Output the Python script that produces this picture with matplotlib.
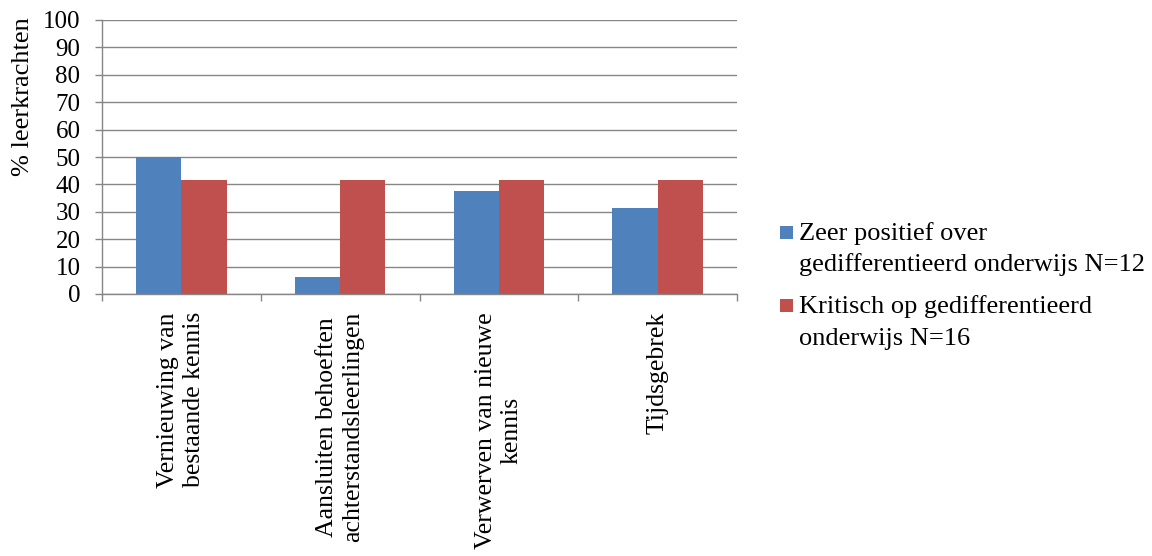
import matplotlib
matplotlib.use("Agg")
import matplotlib.pyplot as plt
import numpy as np
from matplotlib.patches import Rectangle

plt.rcParams['font.family'] = ['Liberation Serif', 'DejaVu Serif']

categories = ["Vernieuwing van\nbestaande kennis",
              "Aansluiten behoeften\nachterstandsleerlingen",
              "Verwerven van nieuwe\nkennis",
              "Tijdsgebrek"]
series_names = ["Zeer positief over\ngedifferentieerd onderwijs N=12",
                "Kritisch op gedifferentieerd\nonderwijs N=16"]
positief = [50.0, 6.25, 37.5, 31.25]
kritisch = [41.67, 41.67, 41.67, 41.67]
yticks = list(range(0, 101, 10))

colors = ['#4F81BD', '#C0504D']
grid_c = '#868686'

W, H = 1152, 556
fig = plt.figure(figsize=(W / 100, H / 100), dpi=100)
ax = fig.add_axes([102 / W, 1 - 294 / H, 635 / W, 274 / H])

x = np.arange(len(categories))
w = 1 / 3.5
ax.bar(x - w / 2, positief, w, color=colors[0], zorder=2)
ax.bar(x + w / 2, kritisch, w, color=colors[1], zorder=2)

ax.set_xlim(-0.5, len(categories) - 0.5)
ax.set_ylim(0, 100)
ax.set_yticks(yticks)
ax.set_yticklabels([str(v) for v in yticks])
ax.yaxis.grid(True, color=grid_c, linewidth=1.0, zorder=0)
ax.set_axisbelow(True)

for s in ['top', 'right']:
    ax.spines[s].set_visible(False)
for s in ['left', 'bottom']:
    ax.spines[s].set_color(grid_c)
    ax.spines[s].set_linewidth(1.0)

ax.tick_params(axis='y', length=5, color=grid_c, width=1.0, pad=10.5,
               labelsize=18, labelcolor='black')
ax.set_xticks(x)
ax.set_xticklabels(categories, rotation=90, va='top', ha='center',
                   multialignment='center', linespacing=1.25)
ax.tick_params(axis='x', which='major', length=0, pad=13, labelsize=18.5,
               labelcolor='black')
ax.set_xticks(np.arange(-0.5, len(categories)), minor=True)
ax.tick_params(axis='x', which='minor', length=5, color=grid_c, width=1.0)

ax.text(-0.124, 0.72, "% leerkrachten", rotation=90, ha='center', va='center',
        transform=ax.transAxes, fontsize=19)

# legend (manual, squares aligned with first line)
first_baselines = [240, 313]
line_gap = 31.5
for i, name in enumerate(series_names):
    b0 = first_baselines[i]
    fig.patches.append(Rectangle((780 / W, 1 - (b0 - 1) / H), 13 / W, 13 / H,
                                 transform=fig.transFigure,
                                 facecolor=colors[i], edgecolor='none'))
    for j, line in enumerate(name.split("\n")):
        fig.text(799 / W, 1 - (b0 + j * line_gap) / H, line, fontsize=19,
                 ha='left', va='baseline')

fig.savefig("out.png", dpi=100)
